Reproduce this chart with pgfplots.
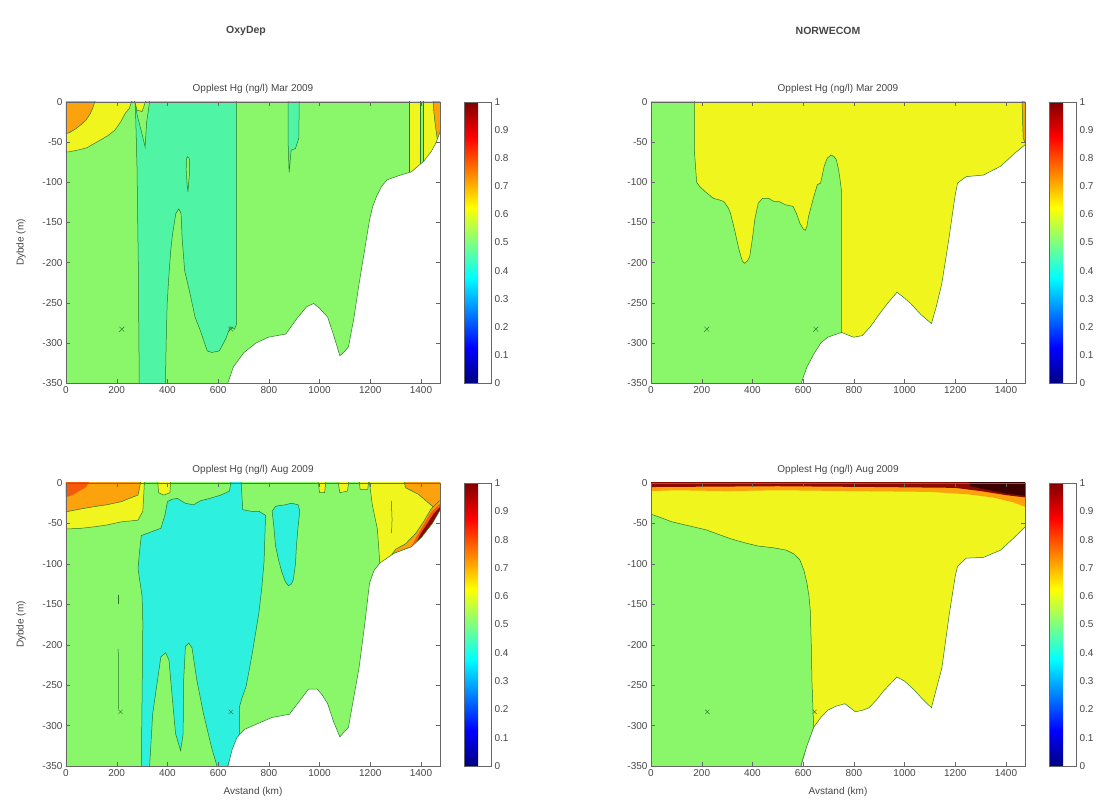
\documentclass[border=0pt]{standalone}
\usepackage{pgfplots}
\pgfplotsset{compat=1.18}
\usepackage{fontspec}
\setmainfont{Liberation Sans}
\definecolor{cGreen}{RGB}{138,247,106}
\definecolor{cTeal}{RGB}{80,244,165}
\definecolor{cCyan}{RGB}{45,240,222}
\definecolor{cYellow}{RGB}{240,245,30}
\definecolor{cOrange}{RGB}{252,162,12}
\definecolor{cRedOr}{RGB}{245,90,10}
\definecolor{cDark}{RGB}{140,10,0}
\definecolor{cBlack}{RGB}{60,0,0}
\definecolor{cLine}{RGB}{40,120,40}
\definecolor{cText}{RGB}{70,70,70}
\pgfplotsset{
  panel/.style={
    scale only axis, width=374pt, height=281pt,
    xmin=0, xmax=1475, ymin=-350, ymax=0,
    xtick={0,200,...,1400}, ytick={-350,-300,...,0},
    tick align=inside, major tick length=4pt,
    axis line style={black!60, line width=0.5pt},
    tick style={black!60},
    ticklabel style={font=\fontsize{10}{12}\selectfont, text=cText},
    /pgf/number format/assume math mode=true,
    /pgf/number format/1000 sep={},
    title style={font=\fontsize{10}{12}\selectfont, text=cText, yshift=-1pt},
    label style={font=\fontsize{10}{12}\selectfont, text=cText},
    ylabel style={yshift=10pt},
    xlabel style={yshift=-4pt},
    axis on top,
    colorbar, colormap/jet, point meta min=0, point meta max=1,
    colorbar shift/.style={xshift=24pt},
    colorbar style={at={(parent axis.north east)}, anchor=north west,
      width=27pt, ytick={0,0.1,...,1},
      yticklabels={0,0.1,0.2,0.3,0.4,0.5,0.6,0.7,0.8,0.9,1},
      major tick length=0pt,
      axis line style={black!60},
      yticklabel style={font=\fontsize{10}{12}\selectfont, text=cText}},
  },
  ct/.style={draw=cLine, line width=0.5pt},
}
\begin{document}
\begin{tikzpicture}[x=1pt,y=1pt]
\useasboundingbox (0,0) rectangle (1099,805);
\node[font=\bfseries\fontsize{10.5}{12}\selectfont, text=cText] at (246,774) {OxyDep};
\node[font=\bfseries\fontsize{10.5}{12}\selectfont, text=cText] at (828,774) {NORWECOM};

% ---------- Panel 1: OxyDep Mar ----------
\begin{axis}[panel, at={(66pt,422pt)}, anchor=south west,
  title={Opplest Hg (ng/l) Mar 2009}, ylabel={Dybde (m)}]
\addplot[fill=cGreen, draw=none] coordinates {(-5,5) (1480,5) (1480,-355) (-5,-355)} -- cycle;
\addplot[fill=cTeal, ct] coordinates {(275,5) (673,5) (673,-276) (665,-283) (648,-280) (630,-295) (605,-310) (575,-312) (557,-310) (530,-285) (509,-268) (490,-240) (468,-210) (458,-170) (454,-139) (445,-133) (433,-139) (420,-165) (413,-185) (405,-220) (399,-251) (395,-300) (392,-355) (289,-355) (285,-200) (280,-80) (275,-20)} -- cycle;
\addplot[fill=cGreen, ct] coordinates {(478,-68) (486,-70) (488,-85) (484,-100) (481,-112) (477,-100) (474,-85) (475,-72)} -- cycle;
\addplot[fill=cGreen, ct] coordinates {(268,5) (332,5) (318,-25) (312,-56) (300,-40) (282,-18)} -- cycle;
\addplot[fill=cYellow, ct] coordinates {(268,5) (318,5) (300,-12) (280,-10)} -- cycle;
\addplot[fill=cYellow, ct] coordinates {(-5,5) (263,5) (250,-8) (234,-14) (215,-25) (193,-35) (165,-42) (138,-47) (110,-52) (83,-57) (45,-60) (14,-62) (-5,-62)} -- cycle;
\addplot[fill=cOrange, ct] coordinates {(-5,5) (119,5) (105,-8) (95,-15) (80,-22) (60,-28) (40,-33) (15,-38) (-5,-40)} -- cycle;
\addplot[fill=cTeal, ct] coordinates {(876,5) (920,5) (918,-45) (905,-58) (888,-60) (880,-88) (876,-50)} -- cycle;
\addplot[fill=cYellow, ct] coordinates {(1355,5) (1480,5) (1480,-95) (1355,-95)} -- cycle;
\addplot[fill=cGreen, ct] coordinates {(1397,5) (1410,5) (1410,-95) (1397,-95)} -- cycle;
\addplot[fill=cOrange, ct] coordinates {(1447,5) (1480,5) (1480,-40) (1465,-48) (1455,-25) (1450,-10)} -- cycle;
\addplot[fill=white, ct] coordinates {(633,-355) (660,-330) (702,-312) (750,-300) (798,-293) (867,-289) (910,-270) (949,-255) (977,-251) (1000,-257) (1032,-268) (1060,-295) (1080,-316) (1095,-312) (1114,-305) (1135,-270) (1156,-226) (1180,-180) (1197,-147) (1210,-130) (1224,-118) (1245,-105) (1266,-97) (1310,-92) (1362,-87) (1410,-74) (1440,-62) (1459,-51) (1480,-33) (1480,-355)} -- cycle;
\addplot[only marks, mark=x, mark size=3.5pt, cLine] coordinates {(220,-283) (650,-283)};
\end{axis}

% ---------- Panel 2: NORWECOM Mar ----------
\begin{axis}[panel, at={(651pt,422pt)}, anchor=south west,
  title={Opplest Hg (ng/l) Mar 2009}]
\addplot[fill=cYellow, draw=none] coordinates {(-5,5) (1480,5) (1480,-355) (-5,-355)} -- cycle;
\addplot[fill=cGreen, ct] coordinates {(-5,5) (171,5) (171,-60) (180,-100) (191,-105) (215,-112) (246,-120) (270,-122) (287,-124) (305,-132) (314,-139) (330,-160) (348,-185) (360,-198) (369,-201) (380,-198) (389,-193) (400,-170) (410,-145) (423,-126) (440,-120) (464,-120) (485,-124) (505,-124) (530,-128) (560,-130) (575,-140) (587,-151) (600,-158) (608,-160) (615,-155) (621,-143) (640,-120) (656,-103) (669,-101) (683,-80) (695,-70) (710,-66) (722,-68) (731,-72) (740,-85) (744,-93) (751,-110) (751,-287) (751,-355) (-5,-355)} -- cycle;
\addplot[fill=cOrange, ct] coordinates {(1463,5) (1480,5) (1480,-55) (1468,-45) (1465,-20)} -- cycle;
\addplot[fill=white, ct] coordinates {(587,-355) (615,-330) (642,-314) (670,-300) (697,-293) (751,-287) (775,-290) (799,-293) (833,-291) (865,-280) (901,-264) (935,-250) (970,-237) (995,-243) (1024,-251) (1065,-265) (1106,-276) (1125,-255) (1147,-226) (1175,-170) (1200,-115) (1209,-101) (1243,-93) (1311,-91) (1379,-80) (1434,-64) (1480,-52) (1480,-355)} -- cycle;
\addplot[only marks, mark=x, mark size=3.5pt, cLine] coordinates {(220,-283) (650,-283)};
\end{axis}

% ---------- Panel 3: OxyDep Aug ----------
\begin{axis}[panel, at={(66pt,39pt)}, anchor=south west, height=283pt,
  title={Opplest Hg (ng/l) Aug 2009}, ylabel={Dybde (m)}, xlabel={Avstand (km)}]
\addplot[fill=cGreen, draw=none] coordinates {(-5,5) (1480,5) (1480,-355) (-5,-355)} -- cycle;
\addplot[fill=cCyan, ct] coordinates {(297,-355) (303,-173) (300,-140) (284,-106) (290,-85) (297,-65) (323,-62) (374,-56) (390,-40) (400,-23) (420,-20) (439,-19) (470,-25) (503,-27) (530,-22) (568,-19) (610,-15) (645,-10) (652,5) (690,5) (697,-33) (730,-35) (761,-35) (787,-40) (784,-70) (781,-98) (772,-130) (761,-160) (748,-185) (735,-210) (722,-232) (710,-252) (695,-265) (684,-277) (684,-310) (660,-330) (632,-355)} -- cycle;
\addplot[fill=cGreen, ct] coordinates {(329,-355) (342,-285) (361,-244) (374,-215) (393,-210) (406,-219) (419,-265) (432,-310) (452,-331) (462,-310) (464,-244) (471,-202) (484,-198) (497,-204) (516,-244) (542,-285) (574,-327) (600,-355)} -- cycle;
\addplot[fill=cCyan, ct] coordinates {(813,-35) (820,-55) (826,-77) (838,-95) (851,-110) (865,-122) (877,-127) (889,-125) (897,-119) (905,-100) (909,-77) (915,-55) (922,-35) (916,-27) (890,-25) (864,-27) (840,-28) (826,-29)} -- cycle;
\addplot[fill=cYellow, ct] coordinates {(-5,5) (310,5) (303,-35) (284,-46) (219,-48) (160,-52) (116,-54) (60,-56) (-5,-57)} -- cycle;
\addplot[fill=cOrange, ct] coordinates {(-5,5) (297,5) (284,-15) (250,-19) (219,-23) (160,-27) (116,-29) (60,-32) (-5,-36)} -- cycle;
\addplot[fill=cRedOr, draw=none] coordinates {(-5,5) (97,5) (80,-5) (52,-10) (25,-15) (-5,-18)} -- cycle;
\addplot[fill=cYellow, ct] coordinates {(361,5) (413,5) (410,-12) (385,-15) (365,-12)} -- cycle;
\addplot[fill=cYellow, ct] coordinates {(993,5) (1026,5) (1020,-12) (1000,-12)} -- cycle;
\addplot[fill=cYellow, ct] coordinates {(1071,5) (1117,5) (1110,-10) (1080,-12)} -- cycle;
\addplot[fill=cYellow, ct] coordinates {(1156,5) (1195,5) (1190,-8) (1160,-8)} -- cycle;
\addplot[fill=cYellow, ct] coordinates {(1195,5) (1480,5) (1480,-110) (1240,-110) (1228,-57) (1208,-27)} -- cycle;
\addplot[fill=cOrange, ct] coordinates {(1330,5) (1480,5) (1480,-42) (1450,-30) (1420,-22) (1390,-14) (1340,-6)} -- cycle;
\addplot[fill=cOrange, ct] coordinates {(1265,-97) (1300,-82) (1340,-75) (1380,-62) (1410,-48) (1440,-32) (1480,-20) (1480,-50) (1445,-50) (1403,-67) (1362,-79) (1293,-87)} -- cycle;
\addplot[fill=cRedOr, draw=none] coordinates {(1360,-80) (1380,-68) (1410,-52) (1440,-36) (1480,-24) (1480,-40) (1445,-50) (1403,-67)} -- cycle;
\addplot[fill=cDark, draw=none] coordinates {(1378,-76) (1400,-62) (1425,-50) (1450,-38) (1480,-28) (1480,-40) (1445,-50) (1403,-67)} -- cycle;
\addplot[ct] coordinates {(1283,-22) (1286,-45) (1284,-62)};
\addplot[ct] coordinates {(206,-138) (206,-150)};
\addplot[ct] coordinates {(206,-205) (207,-280)};
\addplot[fill=white, ct] coordinates {(635,-355) (655,-330) (674,-315) (702,-305) (760,-297) (812,-290) (881,-286) (920,-270) (956,-255) (991,-255) (1010,-262) (1032,-273) (1055,-295) (1080,-314) (1097,-308) (1114,-302) (1135,-265) (1156,-228) (1178,-175) (1197,-124) (1215,-108) (1238,-99) (1293,-87) (1362,-79) (1403,-67) (1445,-50) (1480,-31) (1480,-355)} -- cycle;
\addplot[only marks, mark=x, mark size=3pt, cLine] coordinates {(215,-283) (650,-283)};
\end{axis}

% ---------- Panel 4: NORWECOM Aug ----------
\begin{axis}[panel, at={(651pt,39pt)}, anchor=south west, height=283pt,
  title={Opplest Hg (ng/l) Aug 2009}, xlabel={Avstand (km)}]
\addplot[fill=cYellow, draw=none] coordinates {(-5,5) (1480,5) (1480,-355) (-5,-355)} -- cycle;
\addplot[fill=cGreen, ct] coordinates {(-5,-38) (40,-43) (82,-48) (150,-53) (218,-58) (270,-64) (314,-69) (370,-74) (423,-78) (480,-80) (533,-83) (565,-88) (587,-95) (603,-108) (615,-124) (623,-140) (628,-157) (632,-200) (635,-248) (640,-289) (642,-302) (620,-322) (600,-340) (587,-355) (-5,-355)} -- cycle;
\addplot[fill=cOrange, draw=none] coordinates {(-5,5) (1480,5) (1480,-30) (1430,-24) (1350,-18) (1250,-14) (1100,-11) (800,-10) (500,-9) (300,-10) (100,-9) (-5,-10)} -- cycle;
\addplot[fill=cDark, draw=none] coordinates {(-5,5) (1480,5) (1480,-18) (1400,-15) (1300,-10) (1200,-6) (900,-5) (500,-4) (-5,-5)} -- cycle;
\addplot[fill=cBlack, draw=none] coordinates {(1250,5) (1480,5) (1480,-16) (1400,-13) (1320,-8) (1260,-4)} -- cycle;
\addplot[fill=white, ct] coordinates {(587,-355) (615,-325) (642,-302) (670,-290) (697,-281) (730,-276) (765,-273) (806,-283) (835,-281) (860,-278) (890,-268) (915,-258) (945,-248) (970,-240) (1000,-245) (1038,-256) (1070,-267) (1106,-278) (1125,-255) (1147,-229) (1175,-165) (1200,-115) (1209,-103) (1243,-93) (1311,-92) (1379,-83) (1434,-67) (1480,-53) (1480,-355)} -- cycle;
\addplot[only marks, mark=x, mark size=3pt, cLine] coordinates {(222,-283) (645,-283)};
\end{axis}
\end{tikzpicture}
\end{document}
